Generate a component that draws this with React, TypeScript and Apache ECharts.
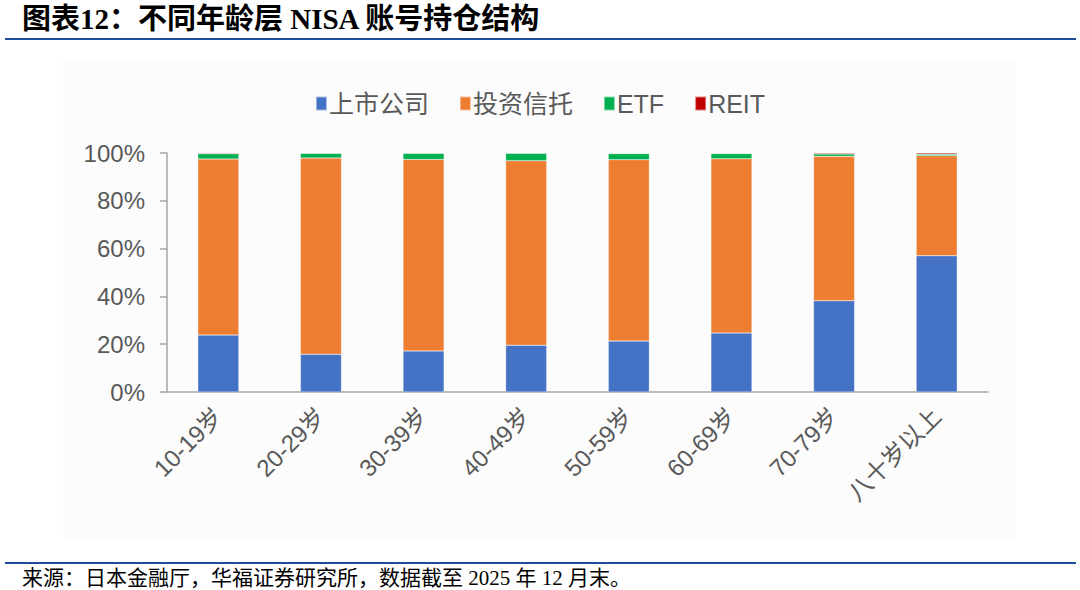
import React, { useEffect, useRef } from "react";
import * as echarts from "echarts";

const categories = ["10-19岁", "20-29岁", "30-39岁", "40-49岁", "50-59岁", "60-69岁", "70-79岁", "八十岁以上"];
const listedStocks = [23.8, 15.8, 17.2, 19.6, 21.3, 24.7, 38.2, 57.0];
const investTrusts = [73.7, 82.1, 80.1, 77.2, 75.9, 72.9, 60.4, 41.9];
const etfs = [2.2, 2.0, 2.6, 3.1, 2.6, 2.2, 1.0, 0.6];
const reits = [0.3, 0.1, 0.1, 0.1, 0.2, 0.2, 0.4, 0.5];
const seriesNames = ["上市公司", "投资信托", "ETF", "REIT"];
const seriesColors = ["#4472C4", "#ED7D31", "#00B050", "#C00000"];

const titleText = "图表12：不同年龄层 NISA 账号持仓结构";
const footerText = "来源：日本金融厅，华福证券研究所，数据截至 2025 年 12 月末。";

export default function App() {
  const ref = useRef<HTMLDivElement>(null);
  useEffect(() => {
    document.body.style.margin = "0";
    if (!ref.current) return;
    const chart = echarts.init(ref.current, null, { renderer: "svg" });
    const data = [listedStocks, investTrusts, etfs, reits];
    const textColor = "#595959";
    const font = "Arial, 'Liberation Sans', 'Noto Sans CJK SC', sans-serif";
    chart.setOption({
      animation: false,
      backgroundColor: "#ffffff",
      graphic: [
        { type: "rect", silent: true, z: -10, shape: { x: 63, y: 58, width: 953, height: 480 }, style: { fill: "#fcfcfc" } },
        {
          type: "text", left: 22, top: 4,
          style: { text: titleText, fontSize: 29, fontWeight: "bold", fill: "#000", fontFamily: "'Liberation Serif', 'Noto Sans CJK SC', serif" },
        },
        { type: "line", shape: { x1: 5, y1: 39, x2: 1076, y2: 39 }, style: { stroke: "#1F4E99", lineWidth: 2 } },
        { type: "line", shape: { x1: 5, y1: 563, x2: 1076, y2: 563 }, style: { stroke: "#1F4E99", lineWidth: 2 } },
        {
          type: "text", left: 22, top: 567,
          style: { text: footerText, fontSize: 21, fill: "#000", fontFamily: "'Liberation Serif', 'Noto Sans CJK SC', serif" },
        },
      ],
      legend: {
        top: 86,
        left: "center",
        itemWidth: 11,
        itemHeight: 14,
        itemGap: 30,
        icon: "rect",
        textStyle: { fontSize: 25, color: textColor, fontFamily: font, padding: [0, 0, 0, -3] },
        data: seriesNames,
      },
      grid: { left: 167, right: 92, top: 153, bottom: 198, containLabel: false },
      xAxis: {
        type: "category",
        data: categories,
        axisLine: { lineStyle: { color: "#a6a6a6", width: 1.5 } },
        axisTick: { show: false },
        axisLabel: { rotate: 45, fontSize: 24, color: textColor, fontFamily: font, margin: 20, interval: 0 },
      },
      yAxis: {
        type: "value",
        min: 0,
        max: 100,
        interval: 20,
        splitLine: { show: false },
        axisLine: { show: true, lineStyle: { color: "#a6a6a6", width: 1.5 } },
        axisTick: { show: true, length: 7, lineStyle: { color: "#a6a6a6", width: 1.5 } },
        axisLabel: { formatter: "{value}%", fontSize: 24, color: textColor, fontFamily: font, margin: 22 },
      },
      series: seriesNames.map((name, i) => ({
        name,
        type: "bar",
        stack: "total",
        barWidth: "40%",
        data: data[i],
        itemStyle: { color: seriesColors[i], borderColor: "rgba(255,255,255,0.5)", borderWidth: 0.5 },
      })),
    });
    return () => chart.dispose();
  }, []);
  return <div ref={ref} style={{ width: 1080, height: 590 }} />;
}
